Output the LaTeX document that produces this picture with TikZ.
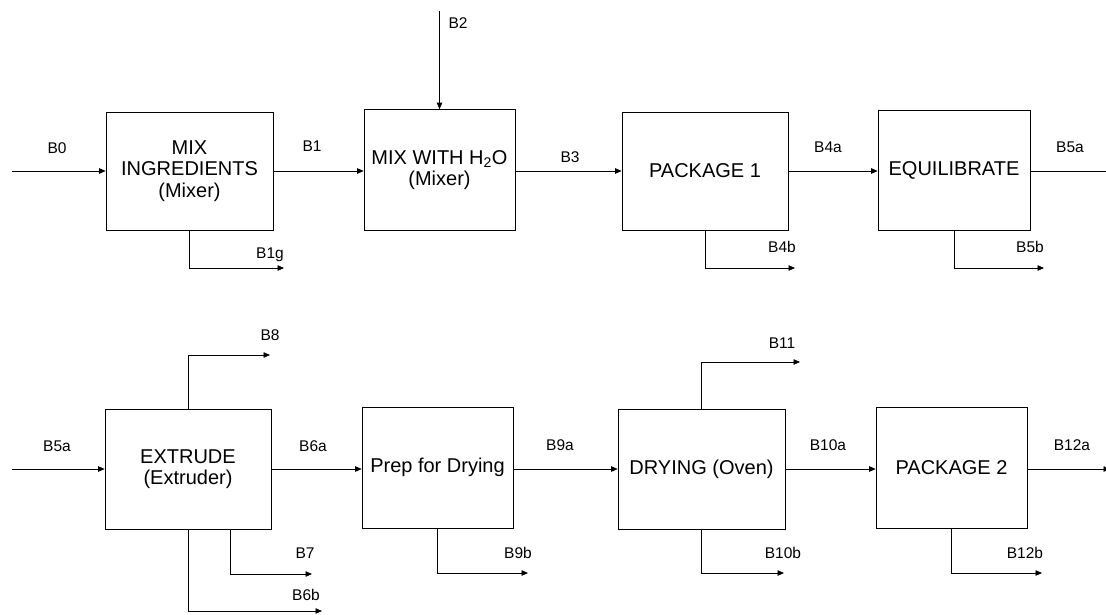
\documentclass[tikz,border=0pt]{standalone}
\usepackage{fontspec}
\setmainfont{Liberation Sans}
\usetikzlibrary{arrows.meta, positioning}

\begin{document}
\begin{tikzpicture}[x=1pt, y=-1pt,
  unit/.style={rectangle, draw, line width=0.7pt, minimum width=#1,
    minimum height=120pt, inner sep=0pt, align=center,
    font=\fontsize{20}{21.5}\selectfont},
  flow/.style={line width=0.7pt, -{Triangle[length=6.5pt, width=5.5pt]}},
  lbl/.style={font=\fontsize{15.5}{17}\selectfont, inner sep=0pt}
]
\useasboundingbox (0,0) rectangle (1106,614);
\clip (0,0) rectangle (1106,614);

% Top row
\node[unit=167pt, minimum height=118pt] (mix1) at (189.5,171) {MIX\\INGREDIENTS\\(Mixer)};
\node[unit=151pt, minimum height=121pt] (mix2) at (439.5,170) {MIX WITH H\textsubscript{2}O\\(Mixer)};
\node[unit=166pt, minimum height=118pt] (pack1) at (705,171) {PACKAGE 1};
\node[unit=152pt] (equil) at (954,170) {EQUILIBRATE};

\coordinate (b0) at (12,171);
\coordinate (b2) at (439.5,11);
\coordinate (b5out) at (1114,171);
\coordinate (b1g) at (284,268);
\coordinate (b4b) at (795,268);
\coordinate (b5b) at (1044,268);

\draw[flow] (b0) -- (mix1.west);
\draw[flow] (mix1.east) -- (mix1.east -| mix2.west);
\draw[flow] (b2) -- (mix2.north);
\draw[flow] (mix1.east -| mix2.east) -- (pack1.west);
\draw[flow] (pack1.east) -- (pack1.east -| equil.west);
\draw[flow] (pack1.east -| equil.east) -- (b5out);
\draw[flow] (mix1.south) |- (b1g);
\draw[flow] (pack1.south) |- (b4b);
\draw[flow] (equil.south) |- (b5b);

\node[lbl] (lB0) at (57,148) {B0};
\node[lbl] (lB1) at (312,146) {B1};
\node[lbl] (lB2) at (458,23) {B2};
\node[lbl] (lB3) at (570,157) {B3};
\node[lbl] (lB4a) at (828,147) {B4a};
\node[lbl] (lB5a) at (1070,147) {B5a};
\node[lbl] (lB1g) at (270,255) {B1g};
\node[lbl] (lB4b) at (782,247) {B4b};
\node[lbl] (lB5b) at (1030,247) {B5b};

% Bottom row
\node[unit=166pt] (extrude) at (188,469) {EXTRUDE\\(Extruder)};
\node[unit=151pt, minimum height=121pt] (prep) at (437.5,467.5) {Prep for Drying};
\node[unit=167pt] (dry) at (701.5,469) {DRYING (Oven)};
\node[unit=151pt, minimum height=121pt] (pack2) at (951.5,467.5) {PACKAGE 2};

\coordinate (b5in) at (12,469);
\coordinate (b8) at (270,355);
\coordinate (b7) at (312,574);
\coordinate (b6b) at (322,611);
\coordinate (b9b) at (528,573);
\coordinate (b11) at (800,362);
\coordinate (b10b) at (784,573);
\coordinate (b12b) at (1042,573);
\coordinate (b12a) at (1110,469);

\draw[flow] (b5in) -- (extrude.west);
\draw[flow] (extrude.east) -- (extrude.east -| prep.west);
\draw[flow] (extrude.east -| prep.east) -- (extrude.east -| dry.west);
\draw[flow] (dry.east) -- (dry.east -| pack2.west);
\draw[flow] (dry.east -| pack2.east) -- (b12a);
\draw[flow] (extrude.north) |- (b8);
\draw[flow] ([xshift=42pt]extrude.south) |- (b7);
\draw[flow] (extrude.south) |- (b6b);
\draw[flow] (prep.south) |- (b9b);
\draw[flow] (dry.north) |- (b11);
\draw[flow] (dry.south) |- (b10b);
\draw[flow] (pack2.south) |- (b12b);

\node[lbl] (lB5a2) at (57,446) {B5a};
\node[lbl] (lB6a) at (313,446) {B6a};
\node[lbl] (lB8) at (270,335) {B8};
\node[lbl] (lB7) at (305,553) {B7};
\node[lbl] (lB6b) at (306,595) {B6b};
\node[lbl] (lB9a) at (560,445) {B9a};
\node[lbl] (lB9b) at (518,553) {B9b};
\node[lbl] (lB11) at (782,343) {B11};
\node[lbl] (lB10a) at (828,445) {B10a};
\node[lbl] (lB10b) at (783,553) {B10b};
\node[lbl] (lB12a) at (1072,445) {B12a};
\node[lbl] (lB12b) at (1025,553) {B12b};
\end{tikzpicture}
\end{document}
